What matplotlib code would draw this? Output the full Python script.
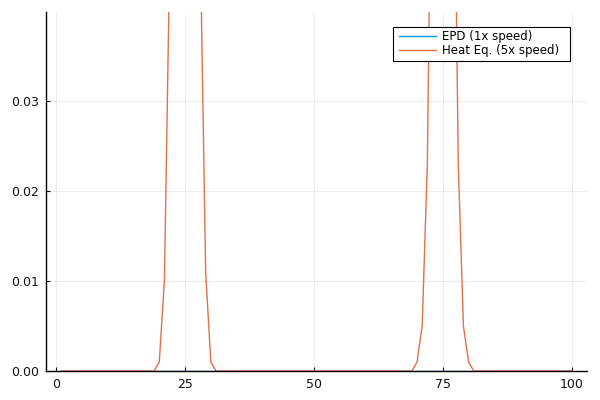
import matplotlib
matplotlib.use("Agg")
import matplotlib.pyplot as plt
from matplotlib.patches import Rectangle

x = list(range(1, 101))
epd = [0.0] * 100
heat = ([0.0] * 19
        + [0.001, 0.010, 0.045, 0.090, 0.140, 0.160, 0.140, 0.090, 0.046, 0.011, 0.001]
        + [0.0] * 39
        + [0.001, 0.005, 0.023, 0.070, 0.130, 0.150, 0.130, 0.070, 0.023, 0.005, 0.001]
        + [0.0] * 20)
labels = ["EPD (1x speed)", "Heat Eq. (5x speed)"]
xticks = [0, 25, 50, 75, 100]
yticks = [0.00, 0.01, 0.02, 0.03]

W, H = 600, 400
fig = plt.figure(figsize=(6, 4), dpi=100)
ax = fig.add_axes([46/W, 1-371/H, 541/W, 359/H])
ax.plot(x, epd, color="#009AFA", lw=1.0, label=labels[0])
ax.plot(x, heat, color="#E36F47", lw=1.0, label=labels[1])
ax.set_xlim(-1.97, 102.97)
ax.set_ylim(0, 0.0399)
ax.set_xticks(xticks)
ax.set_xticklabels([str(t) for t in xticks])
ax.set_yticks(yticks)
ax.set_yticklabels([f"{t:.2f}" for t in yticks])
ax.grid(True, color="black", alpha=0.1, lw=0.5)
for s in ["top", "right"]:
    ax.spines[s].set_visible(False)
for s in ["left", "bottom"]:
    ax.spines[s].set_linewidth(1.0)
    ax.spines[s].set_color("black")
ax.tick_params(direction="in", length=3, width=0.8, labelsize=9, colors="#111111", pad=5)

# legend frame (Plots.jl style: extra padding on the right)
frame = Rectangle((393/W, 1-61/H), 177/W, 34/H, transform=fig.transFigure,
                  facecolor="white", edgecolor="black", lw=0.8, zorder=4.9, clip_on=False)
ax.add_artist(frame)
leg = ax.legend(loc="center left", bbox_to_anchor=(399/W, 1-43.5/H),
                bbox_transform=fig.transFigure, fontsize=8.5, frameon=False,
                borderpad=0, borderaxespad=0, handlelength=3.1, handletextpad=0.5,
                labelspacing=0.1)
leg.set_zorder(5)
fig.savefig("out.png", dpi=100)
